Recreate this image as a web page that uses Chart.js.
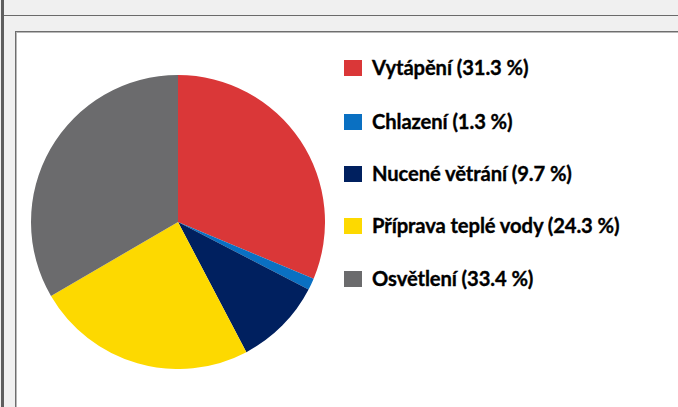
<!DOCTYPE html>
<html><head><meta charset="utf-8">
<script src="https://cdn.jsdelivr.net/npm/chart.js@4.4.1/dist/chart.umd.min.js"></script>
<style>
html,body{margin:0;padding:0;width:678px;height:407px;overflow:hidden;background:#f0f0f0;}
#bar{position:absolute;left:1px;top:0;width:3px;height:407px;background:#5e5e5e;}
#hline{position:absolute;left:4px;top:15px;width:674px;height:1px;background:#6a6a6a;}
#box{position:absolute;left:15px;top:31px;width:700px;height:400px;background:#fff;border-top:1px solid #6e6e6e;border-left:1px solid #6e6e6e;box-shadow:inset 1px 1px 0 #b8b8b8;}
#wrap{position:absolute;left:31px;top:75px;width:294px;height:294px;}
#legend{position:absolute;left:344px;top:0;font-family:Lato,"DejaVu Sans",sans-serif;font-weight:bold;font-size:20.2px;color:#000;-webkit-text-stroke:0.35px #000;}
.item{position:absolute;left:0;white-space:nowrap;height:20px;line-height:20px;}
.sw{position:absolute;left:0;top:2px;width:18px;height:16px;}
.lb{position:absolute;left:28px;top:-1px;letter-spacing:-0.1px;}
</style></head>
<body>
<div id="bar"></div><div id="hline"></div><div id="box"></div>
<div id="wrap"><canvas id="c"></canvas></div>
<div id="legend"></div>
<script>
const categories = ["Vytápění","Chlazení","Nucené větrání","Příprava teplé vody","Osvětlení"];
const values = [31.3, 1.3, 9.7, 24.3, 33.4];
const colors = ["#DA3738","#0A70C2","#00205F","#FDD900","#6B6B6D"];

const legendTops = [58, 112, 164, 216, 269];
const lg = document.getElementById('legend');
categories.forEach((c,i)=>{
  const d=document.createElement('div');d.className='item';d.style.top=legendTops[i]+'px';
  d.innerHTML='<span class="sw" style="background:'+colors[i]+'"></span><span class="lb">'+c+' ('+values[i].toFixed(1)+' %)</span>';
  lg.appendChild(d);
});

new Chart(document.getElementById('c'),{
  type:'pie',
  data:{labels:categories,datasets:[{data:values,backgroundColor:colors,borderWidth:0}]},
  options:{responsive:true,maintainAspectRatio:false,animation:false,
    layout:{padding:0},
    plugins:{legend:{display:false},tooltip:{enabled:false}}}
});
</script>
</body></html>
